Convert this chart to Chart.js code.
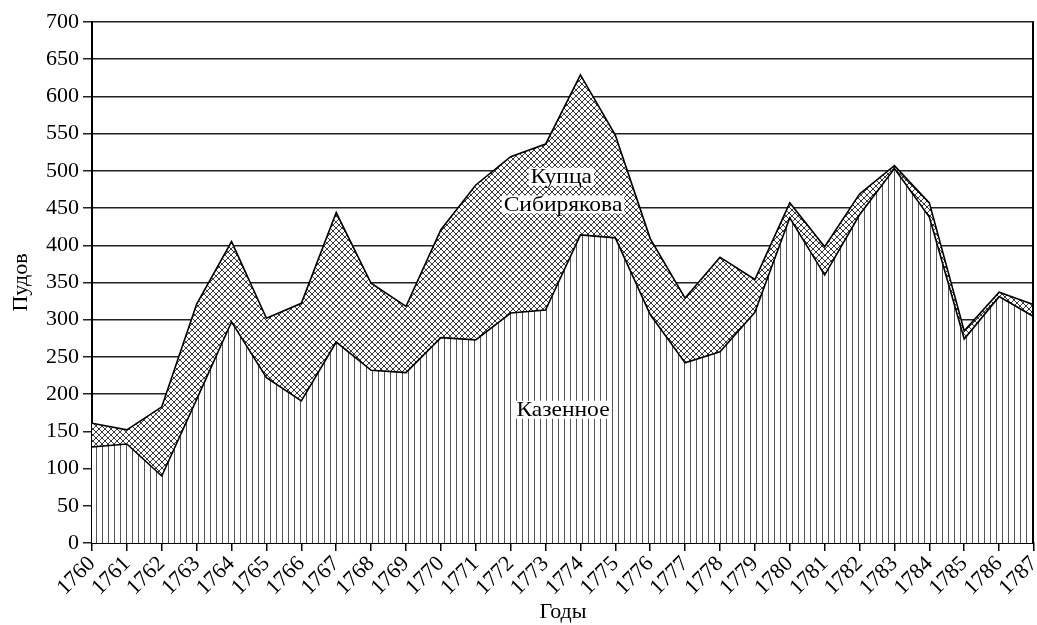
<!DOCTYPE html>
<html>
<head>
<meta charset="utf-8">
<script src="https://cdn.jsdelivr.net/npm/chart.js@4"></script>
<style>
  html, body { margin: 0; padding: 0; background: #fff; }
  #wrap { width: 1037px; height: 625px; }
</style>
</head>
<body>
<div id="wrap"><canvas id="grafik"></canvas></div>
<script>
// годы и значения (пуды)
const godi = ["1760","1761","1762","1763","1764","1765","1766","1767","1768","1769",
  "1770","1771","1772","1773","1774","1775","1776","1777","1778","1779",
  "1780","1781","1782","1783","1784","1785","1786","1787"];
const kazennoe = [129,133,90,193,297,222,191,270,232,229,276,273,309,313,414,410,307,242,257,310,437,360,441,503,438,274,331,304];
const vsego = [161,152,183,321,405,302,322,444,349,318,421,481,519,536,629,548,409,329,384,354,457,398,469,507,457,285,337,320];
const yTicks = [0,50,100,150,200,250,300,350,400,450,500,550,600,650,700];

const SERIF = "'Liberation Serif', 'DejaVu Serif', serif";

// штриховки
function vertHatch(){
  let c = document.createElement("canvas");
  c.width = 6; c.height = 6;
  let g = c.getContext("2d");
  g.fillStyle = "#fff"; g.fillRect(0,0,6,6);
  g.fillStyle = "#555"; g.fillRect(0,0,1,6);
  return g.createPattern(c, "repeat");
}
function crossHatch(){
  let c = document.createElement("canvas");
  c.width = 6; c.height = 6;
  let g = c.getContext("2d");
  g.fillStyle = "#fff"; g.fillRect(0,0,6,6);
  g.strokeStyle = "#222"; g.lineWidth = 0.9;
  g.beginPath();
  g.moveTo(-1,-1); g.lineTo(7,7);
  g.moveTo(7,-1); g.lineTo(-1,7);
  g.stroke();
  return g.createPattern(c, "repeat");
}

// подписи внутри графика
const nadpisi = {
  id: "nadpisi",
  afterDatasetsDraw(chart){
    let ctx = chart.ctx, x = chart.scales.x, y = chart.scales.y;
    let items = [
      ["Купца", 13.45, 492],
      ["Сибирякова", 13.5, 455],
      ["Казенное", 13.5, 179]
    ];
    ctx.save();
    ctx.font = "21px " + SERIF;
    ctx.textAlign = "center";
    ctx.textBaseline = "middle";
    items.forEach(it => {
      let px = x.getPixelForValue(it[1]), py = y.getPixelForValue(it[2]);
      let w = ctx.measureText(it[0]).width * 1.12;
      ctx.fillStyle = "#fff";
      ctx.fillRect(px - w/2 - 2, py - 9, w + 4, 18);
      ctx.save();
      ctx.translate(px, py + 1);
      ctx.scale(1.12, 1);
      ctx.fillStyle = "#000";
      ctx.fillText(it[0], 0, 0);
      ctx.restore();
    });
    // правая граница
    let a = chart.chartArea;
    ctx.strokeStyle = "#000"; ctx.lineWidth = 2;
    ctx.beginPath(); ctx.moveTo(a.right - 1, a.top); ctx.lineTo(a.right - 1, a.bottom); ctx.stroke();
    ctx.restore();
  }
};

window.addEventListener("load", function(){
  "use strict";
  Chart.defaults.font.family = SERIF;
  Chart.defaults.color = "#000";

  new Chart(document.querySelector("#grafik"), {
    type: "line",
    data: {
      labels: godi,
      datasets: [
        {
          label: "Казенное",
          data: kazennoe,
          borderColor: "#000",
          borderWidth: 1.6,
          backgroundColor: vertHatch(),
          fill: "origin",
          pointRadius: 0,
          tension: 0
        },
        {
          label: "Купца Сибирякова",
          data: vsego,
          borderColor: "#000",
          borderWidth: 1.6,
          backgroundColor: crossHatch(),
          fill: "-1",
          pointRadius: 0,
          tension: 0
        }
      ]
    },
    options: {
      responsive: true,
      maintainAspectRatio: false,
      animation: false,
      layout: { padding: { top: 22, right: 3, left: 0, bottom: 0 } },
      plugins: { legend: { display: false }, tooltip: { enabled: false } },
      scales: {
        x: {
          offset: false,
          grid: { drawOnChartArea: false, drawTicks: true, tickLength: 8, color: "#000", lineWidth: 1.5 },
          border: { color: "#000", width: 2 },
          ticks: { font: { size: 22 }, minRotation: 45, maxRotation: 45, autoSkip: false, padding: 0 },
          title: { display: true, text: "Годы", font: { size: 22 }, padding: { top: 0, bottom: 0 } },
          afterFit(s){ s.height = 82; s.paddingRight = 0; s.paddingLeft = 0; }
        },
        y: {
          min: 0, max: 700,
          afterBuildTicks(s){ s.ticks = yTicks.map(v => ({ value: v })); },
          grid: { color: "#222", lineWidth: 1.5, tickLength: 9 },
          border: { color: "#000", width: 2 },
          ticks: { font: { size: 22 }, padding: 4 },
          title: { display: true, text: "Пудов", font: { size: 22 }, padding: { top: 8, bottom: 4 } },
          afterFit(s){ s.width = 92; }
        }
      }
    },
    plugins: [nadpisi]
  });
});
</script>
</body>
</html>
